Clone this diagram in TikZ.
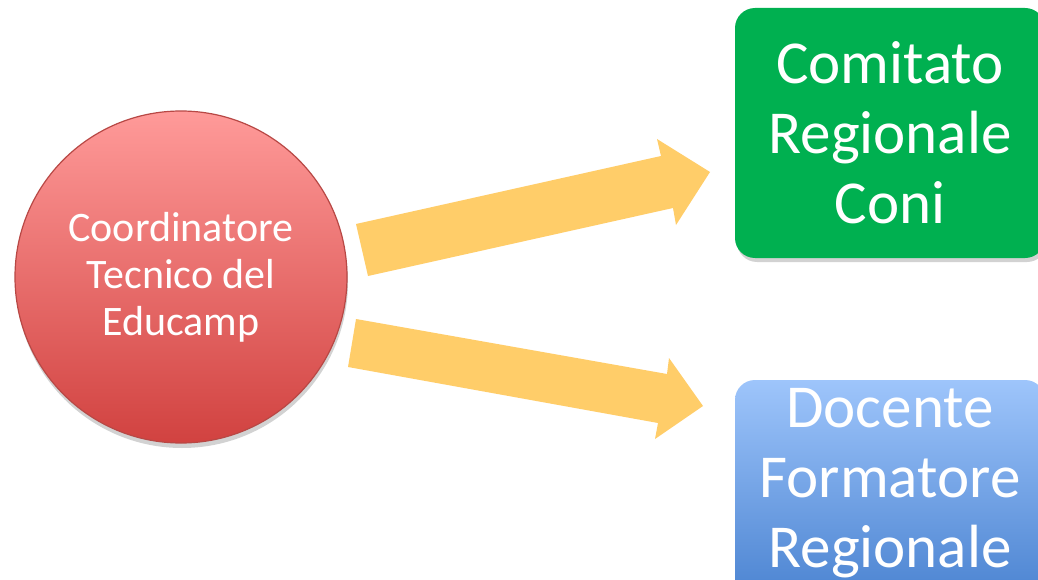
\documentclass[tikz,border=0pt]{standalone}
\usepackage{fontspec}
\setmainfont{Carlito}
\usetikzlibrary{shadows,shapes.geometric}
\definecolor{arrowyel}{HTML}{FFCD69}
\definecolor{circtop}{HTML}{FF9A99}
\definecolor{circbot}{HTML}{D14240}
\definecolor{circedge}{HTML}{B84845}
\definecolor{boxgreen}{HTML}{00B050}
\definecolor{bluetop}{HTML}{9EC5FB}
\definecolor{bluebot}{HTML}{3F7ACB}
\tikzset{
  bigarrow/.style={fill=arrowyel, draw=none},
  boxtext/.style={text=white, font=\fontsize{61}{70}\selectfont, align=center, inner sep=0pt},
  roundbox/.style={rectangle, rounded corners=20pt, minimum width=310pt, minimum height=250pt,
    boxtext,
    drop shadow={shadow xshift=2pt, shadow yshift=-4pt, opacity=0.35}},
  circnode/.style={circle, minimum size=332pt, inner sep=0pt, draw=circedge, line width=1.2pt,
    top color=circtop, bottom color=circbot, text=white, align=center,
    font=\fontsize{42}{47}\selectfont,
    drop shadow={shadow xshift=1pt, shadow yshift=-5pt, opacity=0.35}}
}
\begin{document}
\begin{tikzpicture}[x=1pt, y=-1pt]
\useasboundingbox (0,0) rectangle (1038,580);
\fill[white] (0,0) rectangle (1038,580);
\node[circnode] (coord) at (181,277) {Coordinatore\\Tecnico del\\Educamp};
\node[roundbox, fill=boxgreen] (comitato) at (890,133) {Comitato\\Regionale\\Coni};
\node[roundbox, top color=bluetop, bottom color=bluebot,
      label={[boxtext, yshift=22pt]center:{Docente\\Formatore\\Regionale}}] (docente) at (890,505) {};
% upper block arrow
\fill[bigarrow] (356,224) -- (661,156) -- (657,139) -- (710,172) -- (676,225) -- (673,208) -- (368,276) -- cycle;
% lower block arrow
\fill[bigarrow] (356,319) -- (667,374) -- (669,358) -- (703,406) -- (655,439) -- (658,423) -- (348,367) -- cycle;
\end{tikzpicture}
\end{document}
